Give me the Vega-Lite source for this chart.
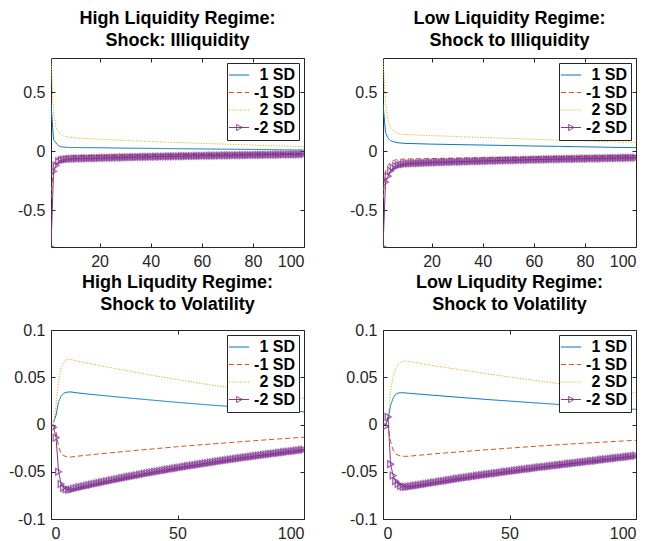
{
  "$schema": "https://vega.github.io/schema/vega-lite/v6.json",
  "autosize": {"type": "pad"},
  "padding": {"left": 8, "top": 9, "right": 5, "bottom": 5},
  "background": "white",
  "config": {
    "view": {"stroke": null},
    "font": "Liberation Sans",
    "axis": {"grid": false, "domainColor": "#262626", "tickColor": "#262626", "labelColor": "#262626", "labelFont": "Liberation Sans", "labelFontSize": 16, "tickSize": -4, "labelPadding": 10, "domainWidth": 1, "tickWidth": 1, "labelExpr": "'' + datum.value"},
    "title": {"font": "Liberation Sans", "fontSize": 18, "fontWeight": "bold", "color": "black", "lineHeight": 22, "offset": 8, "anchor": "middle"},
    "legend": {"orient": "top-right", "offset": 5, "strokeColor": "#262626", "fillColor": "white", "padding": 4, "labelFont": "Liberation Sans", "labelFontSize": 16, "labelFontWeight": "bold", "labelColor": "black", "symbolSize": 180, "symbolStrokeWidth": 1, "rowPadding": 1.5, "labelOffset": 9, "labelLimit": 200, "symbolType": "stroke", "titlePadding": 0}
  },
  "datasets": {
    "A": [
      {"s":"1 SD","x":1,"y":0.40},{"s":"1 SD","x":2,"y":0.10},{"s":"1 SD","x":3,"y":0.07},{"s":"1 SD","x":4,"y":0.045},{"s":"1 SD","x":5,"y":0.038},{"s":"1 SD","x":6,"y":0.036},{"s":"1 SD","x":7,"y":0.034},{"s":"1 SD","x":8,"y":0.033},{"s":"1 SD","x":10,"y":0.032},{"s":"1 SD","x":15,"y":0.031},{"s":"1 SD","x":20,"y":0.030},{"s":"1 SD","x":30,"y":0.027},{"s":"1 SD","x":40,"y":0.025},{"s":"1 SD","x":50,"y":0.022},{"s":"1 SD","x":60,"y":0.020},{"s":"1 SD","x":70,"y":0.018},{"s":"1 SD","x":80,"y":0.016},{"s":"1 SD","x":90,"y":0.013},{"s":"1 SD","x":100,"y":0.011},
      {"s":"-1 SD","x":1,"y":-0.40},{"s":"-1 SD","x":2,"y":-0.12},{"s":"-1 SD","x":3,"y":-0.07},{"s":"-1 SD","x":4,"y":-0.055},{"s":"-1 SD","x":5,"y":-0.048},{"s":"-1 SD","x":6,"y":-0.044},{"s":"-1 SD","x":8,"y":-0.040},{"s":"-1 SD","x":10,"y":-0.038},{"s":"-1 SD","x":15,"y":-0.036},{"s":"-1 SD","x":20,"y":-0.035},{"s":"-1 SD","x":30,"y":-0.032},{"s":"-1 SD","x":40,"y":-0.030},{"s":"-1 SD","x":50,"y":-0.028},{"s":"-1 SD","x":60,"y":-0.026},{"s":"-1 SD","x":70,"y":-0.024},{"s":"-1 SD","x":80,"y":-0.022},{"s":"-1 SD","x":90,"y":-0.020},{"s":"-1 SD","x":100,"y":-0.018},
      {"s":"2 SD","x":1,"y":0.79},{"s":"2 SD","x":2,"y":0.32},{"s":"2 SD","x":3,"y":0.20},{"s":"2 SD","x":4,"y":0.16},{"s":"2 SD","x":5,"y":0.14},{"s":"2 SD","x":6,"y":0.13},{"s":"2 SD","x":8,"y":0.12},{"s":"2 SD","x":10,"y":0.115},{"s":"2 SD","x":15,"y":0.108},{"s":"2 SD","x":20,"y":0.102},{"s":"2 SD","x":30,"y":0.092},{"s":"2 SD","x":40,"y":0.083},{"s":"2 SD","x":50,"y":0.075},{"s":"2 SD","x":60,"y":0.067},{"s":"2 SD","x":70,"y":0.060},{"s":"2 SD","x":80,"y":0.053},{"s":"2 SD","x":90,"y":0.046},{"s":"2 SD","x":100,"y":0.040},
      {"s":"-2 SD","x":1,"y":-0.81},{"s":"-2 SD","x":2,"y":-0.17},{"s":"-2 SD","x":3,"y":-0.12},{"s":"-2 SD","x":4,"y":-0.085},{"s":"-2 SD","x":5,"y":-0.075},{"s":"-2 SD","x":6,"y":-0.07},{"s":"-2 SD","x":7,"y":-0.067},{"s":"-2 SD","x":8,"y":-0.065},{"s":"-2 SD","x":9,"y":-0.063},{"s":"-2 SD","x":10,"y":-0.062},
      {"s":"-2 SD","x":11,"y":-0.0615},{"s":"-2 SD","x":12,"y":-0.0609},{"s":"-2 SD","x":13,"y":-0.0604},{"s":"-2 SD","x":14,"y":-0.0598},{"s":"-2 SD","x":15,"y":-0.0593},{"s":"-2 SD","x":16,"y":-0.0587},{"s":"-2 SD","x":17,"y":-0.0582},{"s":"-2 SD","x":18,"y":-0.0576},{"s":"-2 SD","x":19,"y":-0.0571},{"s":"-2 SD","x":20,"y":-0.0565},
      {"s":"-2 SD","x":21,"y":-0.056},{"s":"-2 SD","x":22,"y":-0.0554},{"s":"-2 SD","x":23,"y":-0.0549},{"s":"-2 SD","x":24,"y":-0.0543},{"s":"-2 SD","x":25,"y":-0.0538},{"s":"-2 SD","x":26,"y":-0.0532},{"s":"-2 SD","x":27,"y":-0.0527},{"s":"-2 SD","x":28,"y":-0.0521},{"s":"-2 SD","x":29,"y":-0.0516},{"s":"-2 SD","x":30,"y":-0.051},
      {"s":"-2 SD","x":31,"y":-0.0505},{"s":"-2 SD","x":32,"y":-0.05},{"s":"-2 SD","x":33,"y":-0.0495},{"s":"-2 SD","x":34,"y":-0.049},{"s":"-2 SD","x":35,"y":-0.0485},{"s":"-2 SD","x":36,"y":-0.048},{"s":"-2 SD","x":37,"y":-0.0475},{"s":"-2 SD","x":38,"y":-0.047},{"s":"-2 SD","x":39,"y":-0.0465},{"s":"-2 SD","x":40,"y":-0.046},
      {"s":"-2 SD","x":41,"y":-0.0456},{"s":"-2 SD","x":42,"y":-0.0452},{"s":"-2 SD","x":43,"y":-0.0448},{"s":"-2 SD","x":44,"y":-0.0444},{"s":"-2 SD","x":45,"y":-0.044},{"s":"-2 SD","x":46,"y":-0.0436},{"s":"-2 SD","x":47,"y":-0.0432},{"s":"-2 SD","x":48,"y":-0.0428},{"s":"-2 SD","x":49,"y":-0.0424},{"s":"-2 SD","x":50,"y":-0.042},
      {"s":"-2 SD","x":51,"y":-0.0416},{"s":"-2 SD","x":52,"y":-0.0412},{"s":"-2 SD","x":53,"y":-0.0408},{"s":"-2 SD","x":54,"y":-0.0404},{"s":"-2 SD","x":55,"y":-0.04},{"s":"-2 SD","x":56,"y":-0.0396},{"s":"-2 SD","x":57,"y":-0.0392},{"s":"-2 SD","x":58,"y":-0.0388},{"s":"-2 SD","x":59,"y":-0.0384},{"s":"-2 SD","x":60,"y":-0.038},
      {"s":"-2 SD","x":61,"y":-0.0377},{"s":"-2 SD","x":62,"y":-0.0373},{"s":"-2 SD","x":63,"y":-0.037},{"s":"-2 SD","x":64,"y":-0.0366},{"s":"-2 SD","x":65,"y":-0.0363},{"s":"-2 SD","x":66,"y":-0.0359},{"s":"-2 SD","x":67,"y":-0.0356},{"s":"-2 SD","x":68,"y":-0.0352},{"s":"-2 SD","x":69,"y":-0.0349},{"s":"-2 SD","x":70,"y":-0.0345},
      {"s":"-2 SD","x":71,"y":-0.0342},{"s":"-2 SD","x":72,"y":-0.0338},{"s":"-2 SD","x":73,"y":-0.0335},{"s":"-2 SD","x":74,"y":-0.0331},{"s":"-2 SD","x":75,"y":-0.0328},{"s":"-2 SD","x":76,"y":-0.0324},{"s":"-2 SD","x":77,"y":-0.0321},{"s":"-2 SD","x":78,"y":-0.0317},{"s":"-2 SD","x":79,"y":-0.0314},{"s":"-2 SD","x":80,"y":-0.031},
      {"s":"-2 SD","x":81,"y":-0.0307},{"s":"-2 SD","x":82,"y":-0.0304},{"s":"-2 SD","x":83,"y":-0.0301},{"s":"-2 SD","x":84,"y":-0.0298},{"s":"-2 SD","x":85,"y":-0.0295},{"s":"-2 SD","x":86,"y":-0.0292},{"s":"-2 SD","x":87,"y":-0.0289},{"s":"-2 SD","x":88,"y":-0.0286},{"s":"-2 SD","x":89,"y":-0.0283},{"s":"-2 SD","x":90,"y":-0.028},
      {"s":"-2 SD","x":91,"y":-0.0277},{"s":"-2 SD","x":92,"y":-0.0274},{"s":"-2 SD","x":93,"y":-0.0271},{"s":"-2 SD","x":94,"y":-0.0268},{"s":"-2 SD","x":95,"y":-0.0265},{"s":"-2 SD","x":96,"y":-0.0262},{"s":"-2 SD","x":97,"y":-0.0259},{"s":"-2 SD","x":98,"y":-0.0256},{"s":"-2 SD","x":99,"y":-0.0253},{"s":"-2 SD","x":100,"y":-0.025}
    ],
    "B": [
      {"s":"1 SD","x":1,"y":0.40},{"s":"1 SD","x":2,"y":0.16},{"s":"1 SD","x":3,"y":0.11},{"s":"1 SD","x":4,"y":0.09},{"s":"1 SD","x":5,"y":0.082},{"s":"1 SD","x":6,"y":0.076},{"s":"1 SD","x":7,"y":0.072},{"s":"1 SD","x":8,"y":0.07},{"s":"1 SD","x":10,"y":0.067},{"s":"1 SD","x":15,"y":0.064},{"s":"1 SD","x":20,"y":0.061},{"s":"1 SD","x":30,"y":0.057},{"s":"1 SD","x":40,"y":0.053},{"s":"1 SD","x":50,"y":0.049},{"s":"1 SD","x":60,"y":0.045},{"s":"1 SD","x":70,"y":0.042},{"s":"1 SD","x":80,"y":0.038},{"s":"1 SD","x":90,"y":0.034},{"s":"1 SD","x":100,"y":0.031},
      {"s":"-1 SD","x":1,"y":-0.40},{"s":"-1 SD","x":2,"y":-0.17},{"s":"-1 SD","x":3,"y":-0.12},{"s":"-1 SD","x":4,"y":-0.09},{"s":"-1 SD","x":5,"y":-0.078},{"s":"-1 SD","x":6,"y":-0.072},{"s":"-1 SD","x":8,"y":-0.067},{"s":"-1 SD","x":10,"y":-0.065},{"s":"-1 SD","x":15,"y":-0.063},{"s":"-1 SD","x":20,"y":-0.061},{"s":"-1 SD","x":30,"y":-0.058},{"s":"-1 SD","x":40,"y":-0.055},{"s":"-1 SD","x":50,"y":-0.052},{"s":"-1 SD","x":60,"y":-0.049},{"s":"-1 SD","x":70,"y":-0.046},{"s":"-1 SD","x":80,"y":-0.043},{"s":"-1 SD","x":90,"y":-0.039},{"s":"-1 SD","x":100,"y":-0.035},
      {"s":"2 SD","x":1,"y":0.79},{"s":"2 SD","x":2,"y":0.40},{"s":"2 SD","x":3,"y":0.26},{"s":"2 SD","x":4,"y":0.20},{"s":"2 SD","x":5,"y":0.175},{"s":"2 SD","x":6,"y":0.16},{"s":"2 SD","x":7,"y":0.152},{"s":"2 SD","x":8,"y":0.147},{"s":"2 SD","x":10,"y":0.142},{"s":"2 SD","x":15,"y":0.137},{"s":"2 SD","x":20,"y":0.133},{"s":"2 SD","x":30,"y":0.125},{"s":"2 SD","x":40,"y":0.117},{"s":"2 SD","x":50,"y":0.11},{"s":"2 SD","x":60,"y":0.102},{"s":"2 SD","x":70,"y":0.095},{"s":"2 SD","x":80,"y":0.088},{"s":"2 SD","x":90,"y":0.081},{"s":"2 SD","x":100,"y":0.075},
      {"s":"-2 SD","x":1,"y":-0.81},{"s":"-2 SD","x":2,"y":-0.26},{"s":"-2 SD","x":3,"y":-0.21},{"s":"-2 SD","x":4,"y":-0.165},{"s":"-2 SD","x":5,"y":-0.14},{"s":"-2 SD","x":6,"y":-0.125},{"s":"-2 SD","x":7,"y":-0.117},{"s":"-2 SD","x":8,"y":-0.112},{"s":"-2 SD","x":9,"y":-0.108},{"s":"-2 SD","x":10,"y":-0.104},
      {"s":"-2 SD","x":11,"y":-0.1031},{"s":"-2 SD","x":12,"y":-0.1022},{"s":"-2 SD","x":13,"y":-0.1013},{"s":"-2 SD","x":14,"y":-0.1004},{"s":"-2 SD","x":15,"y":-0.0995},{"s":"-2 SD","x":16,"y":-0.0986},{"s":"-2 SD","x":17,"y":-0.0977},{"s":"-2 SD","x":18,"y":-0.0968},{"s":"-2 SD","x":19,"y":-0.0959},{"s":"-2 SD","x":20,"y":-0.095},
      {"s":"-2 SD","x":21,"y":-0.0943},{"s":"-2 SD","x":22,"y":-0.0936},{"s":"-2 SD","x":23,"y":-0.0929},{"s":"-2 SD","x":24,"y":-0.0922},{"s":"-2 SD","x":25,"y":-0.0915},{"s":"-2 SD","x":26,"y":-0.0908},{"s":"-2 SD","x":27,"y":-0.0901},{"s":"-2 SD","x":28,"y":-0.0894},{"s":"-2 SD","x":29,"y":-0.0887},{"s":"-2 SD","x":30,"y":-0.088},
      {"s":"-2 SD","x":31,"y":-0.0874},{"s":"-2 SD","x":32,"y":-0.0868},{"s":"-2 SD","x":33,"y":-0.0862},{"s":"-2 SD","x":34,"y":-0.0856},{"s":"-2 SD","x":35,"y":-0.085},{"s":"-2 SD","x":36,"y":-0.0844},{"s":"-2 SD","x":37,"y":-0.0838},{"s":"-2 SD","x":38,"y":-0.0832},{"s":"-2 SD","x":39,"y":-0.0826},{"s":"-2 SD","x":40,"y":-0.082},
      {"s":"-2 SD","x":41,"y":-0.0814},{"s":"-2 SD","x":42,"y":-0.0808},{"s":"-2 SD","x":43,"y":-0.0802},{"s":"-2 SD","x":44,"y":-0.0796},{"s":"-2 SD","x":45,"y":-0.079},{"s":"-2 SD","x":46,"y":-0.0784},{"s":"-2 SD","x":47,"y":-0.0778},{"s":"-2 SD","x":48,"y":-0.0772},{"s":"-2 SD","x":49,"y":-0.0766},{"s":"-2 SD","x":50,"y":-0.076},
      {"s":"-2 SD","x":51,"y":-0.0755},{"s":"-2 SD","x":52,"y":-0.075},{"s":"-2 SD","x":53,"y":-0.0745},{"s":"-2 SD","x":54,"y":-0.074},{"s":"-2 SD","x":55,"y":-0.0735},{"s":"-2 SD","x":56,"y":-0.073},{"s":"-2 SD","x":57,"y":-0.0725},{"s":"-2 SD","x":58,"y":-0.072},{"s":"-2 SD","x":59,"y":-0.0715},{"s":"-2 SD","x":60,"y":-0.071},
      {"s":"-2 SD","x":61,"y":-0.0705},{"s":"-2 SD","x":62,"y":-0.07},{"s":"-2 SD","x":63,"y":-0.0695},{"s":"-2 SD","x":64,"y":-0.069},{"s":"-2 SD","x":65,"y":-0.0685},{"s":"-2 SD","x":66,"y":-0.068},{"s":"-2 SD","x":67,"y":-0.0675},{"s":"-2 SD","x":68,"y":-0.067},{"s":"-2 SD","x":69,"y":-0.0665},{"s":"-2 SD","x":70,"y":-0.066},
      {"s":"-2 SD","x":71,"y":-0.0656},{"s":"-2 SD","x":72,"y":-0.0652},{"s":"-2 SD","x":73,"y":-0.0648},{"s":"-2 SD","x":74,"y":-0.0644},{"s":"-2 SD","x":75,"y":-0.064},{"s":"-2 SD","x":76,"y":-0.0636},{"s":"-2 SD","x":77,"y":-0.0632},{"s":"-2 SD","x":78,"y":-0.0628},{"s":"-2 SD","x":79,"y":-0.0624},{"s":"-2 SD","x":80,"y":-0.062},
      {"s":"-2 SD","x":81,"y":-0.0616},{"s":"-2 SD","x":82,"y":-0.0612},{"s":"-2 SD","x":83,"y":-0.0608},{"s":"-2 SD","x":84,"y":-0.0604},{"s":"-2 SD","x":85,"y":-0.06},{"s":"-2 SD","x":86,"y":-0.0596},{"s":"-2 SD","x":87,"y":-0.0592},{"s":"-2 SD","x":88,"y":-0.0588},{"s":"-2 SD","x":89,"y":-0.0584},{"s":"-2 SD","x":90,"y":-0.058},
      {"s":"-2 SD","x":91,"y":-0.0576},{"s":"-2 SD","x":92,"y":-0.0572},{"s":"-2 SD","x":93,"y":-0.0568},{"s":"-2 SD","x":94,"y":-0.0564},{"s":"-2 SD","x":95,"y":-0.056},{"s":"-2 SD","x":96,"y":-0.0556},{"s":"-2 SD","x":97,"y":-0.0552},{"s":"-2 SD","x":98,"y":-0.0548},{"s":"-2 SD","x":99,"y":-0.0544},{"s":"-2 SD","x":100,"y":-0.054}
    ],
    "C": [
      {"s":"1 SD","x":1,"y":0.002},{"s":"1 SD","x":2,"y":0.010},{"s":"1 SD","x":3,"y":0.024},{"s":"1 SD","x":4,"y":0.030},{"s":"1 SD","x":5,"y":0.033},{"s":"1 SD","x":6,"y":0.034},{"s":"1 SD","x":7,"y":0.0344},{"s":"1 SD","x":8,"y":0.0344},{"s":"1 SD","x":10,"y":0.0336},{"s":"1 SD","x":15,"y":0.0321},{"s":"1 SD","x":20,"y":0.0308},{"s":"1 SD","x":30,"y":0.0282},{"s":"1 SD","x":40,"y":0.0258},{"s":"1 SD","x":50,"y":0.0234},{"s":"1 SD","x":60,"y":0.0212},{"s":"1 SD","x":70,"y":0.0192},{"s":"1 SD","x":80,"y":0.0171},{"s":"1 SD","x":90,"y":0.0152},{"s":"1 SD","x":100,"y":0.0134},
      {"s":"-1 SD","x":1,"y":0},{"s":"-1 SD","x":2,"y":-0.008},{"s":"-1 SD","x":3,"y":-0.023},{"s":"-1 SD","x":4,"y":-0.031},{"s":"-1 SD","x":5,"y":-0.033},{"s":"-1 SD","x":6,"y":-0.034},{"s":"-1 SD","x":7,"y":-0.0345},{"s":"-1 SD","x":8,"y":-0.0344},{"s":"-1 SD","x":10,"y":-0.0337},{"s":"-1 SD","x":15,"y":-0.0322},{"s":"-1 SD","x":20,"y":-0.0309},{"s":"-1 SD","x":30,"y":-0.0283},{"s":"-1 SD","x":40,"y":-0.0259},{"s":"-1 SD","x":50,"y":-0.0235},{"s":"-1 SD","x":60,"y":-0.0213},{"s":"-1 SD","x":70,"y":-0.0193},{"s":"-1 SD","x":80,"y":-0.0172},{"s":"-1 SD","x":90,"y":-0.0153},{"s":"-1 SD","x":100,"y":-0.0135},
      {"s":"2 SD","x":1,"y":0.002},{"s":"2 SD","x":2,"y":0.02},{"s":"2 SD","x":3,"y":0.047},{"s":"2 SD","x":4,"y":0.06},{"s":"2 SD","x":5,"y":0.066},{"s":"2 SD","x":6,"y":0.0685},{"s":"2 SD","x":7,"y":0.069},{"s":"2 SD","x":8,"y":0.0689},{"s":"2 SD","x":10,"y":0.0673},{"s":"2 SD","x":15,"y":0.0646},{"s":"2 SD","x":20,"y":0.062},{"s":"2 SD","x":30,"y":0.057},{"s":"2 SD","x":40,"y":0.052},{"s":"2 SD","x":50,"y":0.0476},{"s":"2 SD","x":60,"y":0.0432},{"s":"2 SD","x":70,"y":0.0391},{"s":"2 SD","x":80,"y":0.0351},{"s":"2 SD","x":90,"y":0.0314},{"s":"2 SD","x":100,"y":0.0277},
      {"s":"-2 SD","x":1,"y":-0.003},{"s":"-2 SD","x":2,"y":-0.014},{"s":"-2 SD","x":3,"y":-0.05},{"s":"-2 SD","x":4,"y":-0.063},{"s":"-2 SD","x":5,"y":-0.067},{"s":"-2 SD","x":6,"y":-0.0685},{"s":"-2 SD","x":7,"y":-0.069},{"s":"-2 SD","x":8,"y":-0.0688},{"s":"-2 SD","x":9,"y":-0.068},{"s":"-2 SD","x":10,"y":-0.0672},
      {"s":"-2 SD","x":11,"y":-0.0666},{"s":"-2 SD","x":12,"y":-0.066},{"s":"-2 SD","x":13,"y":-0.0654},{"s":"-2 SD","x":14,"y":-0.0648},{"s":"-2 SD","x":15,"y":-0.0642},{"s":"-2 SD","x":16,"y":-0.0636},{"s":"-2 SD","x":17,"y":-0.063},{"s":"-2 SD","x":18,"y":-0.0624},{"s":"-2 SD","x":19,"y":-0.0618},{"s":"-2 SD","x":20,"y":-0.0612},
      {"s":"-2 SD","x":21,"y":-0.0607},{"s":"-2 SD","x":22,"y":-0.0601},{"s":"-2 SD","x":23,"y":-0.0596},{"s":"-2 SD","x":24,"y":-0.059},{"s":"-2 SD","x":25,"y":-0.0585},{"s":"-2 SD","x":26,"y":-0.0579},{"s":"-2 SD","x":27,"y":-0.0574},{"s":"-2 SD","x":28,"y":-0.0568},{"s":"-2 SD","x":29,"y":-0.0563},{"s":"-2 SD","x":30,"y":-0.0557},
      {"s":"-2 SD","x":31,"y":-0.0552},{"s":"-2 SD","x":32,"y":-0.0547},{"s":"-2 SD","x":33,"y":-0.0542},{"s":"-2 SD","x":34,"y":-0.0537},{"s":"-2 SD","x":35,"y":-0.0532},{"s":"-2 SD","x":36,"y":-0.0526},{"s":"-2 SD","x":37,"y":-0.0521},{"s":"-2 SD","x":38,"y":-0.0516},{"s":"-2 SD","x":39,"y":-0.0511},{"s":"-2 SD","x":40,"y":-0.0506},
      {"s":"-2 SD","x":41,"y":-0.0501},{"s":"-2 SD","x":42,"y":-0.0497},{"s":"-2 SD","x":43,"y":-0.0492},{"s":"-2 SD","x":44,"y":-0.0487},{"s":"-2 SD","x":45,"y":-0.0483},{"s":"-2 SD","x":46,"y":-0.0478},{"s":"-2 SD","x":47,"y":-0.0473},{"s":"-2 SD","x":48,"y":-0.0468},{"s":"-2 SD","x":49,"y":-0.0464},{"s":"-2 SD","x":50,"y":-0.0459},
      {"s":"-2 SD","x":51,"y":-0.0455},{"s":"-2 SD","x":52,"y":-0.045},{"s":"-2 SD","x":53,"y":-0.0446},{"s":"-2 SD","x":54,"y":-0.0441},{"s":"-2 SD","x":55,"y":-0.0437},{"s":"-2 SD","x":56,"y":-0.0433},{"s":"-2 SD","x":57,"y":-0.0428},{"s":"-2 SD","x":58,"y":-0.0424},{"s":"-2 SD","x":59,"y":-0.0419},{"s":"-2 SD","x":60,"y":-0.0415},
      {"s":"-2 SD","x":61,"y":-0.0411},{"s":"-2 SD","x":62,"y":-0.0407},{"s":"-2 SD","x":63,"y":-0.0403},{"s":"-2 SD","x":64,"y":-0.0399},{"s":"-2 SD","x":65,"y":-0.0395},{"s":"-2 SD","x":66,"y":-0.039},{"s":"-2 SD","x":67,"y":-0.0386},{"s":"-2 SD","x":68,"y":-0.0382},{"s":"-2 SD","x":69,"y":-0.0378},{"s":"-2 SD","x":70,"y":-0.0374},
      {"s":"-2 SD","x":71,"y":-0.037},{"s":"-2 SD","x":72,"y":-0.0366},{"s":"-2 SD","x":73,"y":-0.0363},{"s":"-2 SD","x":74,"y":-0.0359},{"s":"-2 SD","x":75,"y":-0.0355},{"s":"-2 SD","x":76,"y":-0.0351},{"s":"-2 SD","x":77,"y":-0.0347},{"s":"-2 SD","x":78,"y":-0.0344},{"s":"-2 SD","x":79,"y":-0.034},{"s":"-2 SD","x":80,"y":-0.0336},
      {"s":"-2 SD","x":81,"y":-0.0332},{"s":"-2 SD","x":82,"y":-0.0329},{"s":"-2 SD","x":83,"y":-0.0325},{"s":"-2 SD","x":84,"y":-0.0322},{"s":"-2 SD","x":85,"y":-0.0318},{"s":"-2 SD","x":86,"y":-0.0314},{"s":"-2 SD","x":87,"y":-0.0311},{"s":"-2 SD","x":88,"y":-0.0307},{"s":"-2 SD","x":89,"y":-0.0304},{"s":"-2 SD","x":90,"y":-0.03},
      {"s":"-2 SD","x":91,"y":-0.0297},{"s":"-2 SD","x":92,"y":-0.0293},{"s":"-2 SD","x":93,"y":-0.029},{"s":"-2 SD","x":94,"y":-0.0286},{"s":"-2 SD","x":95,"y":-0.0283},{"s":"-2 SD","x":96,"y":-0.028},{"s":"-2 SD","x":97,"y":-0.0276},{"s":"-2 SD","x":98,"y":-0.0273},{"s":"-2 SD","x":99,"y":-0.0269},{"s":"-2 SD","x":100,"y":-0.0266}
    ],
    "D": [
      {"s":"1 SD","x":1,"y":0.0},{"s":"1 SD","x":2,"y":0.006},{"s":"1 SD","x":3,"y":0.02},{"s":"1 SD","x":4,"y":0.028},{"s":"1 SD","x":5,"y":0.032},{"s":"1 SD","x":6,"y":0.0333},{"s":"1 SD","x":7,"y":0.0336},{"s":"1 SD","x":8,"y":0.0336},{"s":"1 SD","x":10,"y":0.0331},{"s":"1 SD","x":20,"y":0.0309},{"s":"1 SD","x":30,"y":0.0288},{"s":"1 SD","x":40,"y":0.0267},{"s":"1 SD","x":50,"y":0.0248},{"s":"1 SD","x":60,"y":0.0229},{"s":"1 SD","x":70,"y":0.0211},{"s":"1 SD","x":80,"y":0.0194},{"s":"1 SD","x":90,"y":0.0177},{"s":"1 SD","x":100,"y":0.016},
      {"s":"-1 SD","x":1,"y":0},{"s":"-1 SD","x":2,"y":-0.002},{"s":"-1 SD","x":3,"y":-0.018},{"s":"-1 SD","x":4,"y":-0.027},{"s":"-1 SD","x":5,"y":-0.031},{"s":"-1 SD","x":6,"y":-0.0325},{"s":"-1 SD","x":7,"y":-0.0333},{"s":"-1 SD","x":8,"y":-0.0336},{"s":"-1 SD","x":9,"y":-0.0337},{"s":"-1 SD","x":10,"y":-0.0336},{"s":"-1 SD","x":20,"y":-0.0311},{"s":"-1 SD","x":30,"y":-0.029},{"s":"-1 SD","x":40,"y":-0.0269},{"s":"-1 SD","x":50,"y":-0.025},{"s":"-1 SD","x":60,"y":-0.0231},{"s":"-1 SD","x":70,"y":-0.0213},{"s":"-1 SD","x":80,"y":-0.0197},{"s":"-1 SD","x":90,"y":-0.0182},{"s":"-1 SD","x":100,"y":-0.0167},
      {"s":"2 SD","x":1,"y":0},{"s":"2 SD","x":2,"y":0.008},{"s":"2 SD","x":3,"y":0.035},{"s":"2 SD","x":4,"y":0.051},{"s":"2 SD","x":5,"y":0.059},{"s":"2 SD","x":6,"y":0.064},{"s":"2 SD","x":7,"y":0.066},{"s":"2 SD","x":8,"y":0.067},{"s":"2 SD","x":9,"y":0.067},{"s":"2 SD","x":10,"y":0.0668},{"s":"2 SD","x":20,"y":0.0622},{"s":"2 SD","x":30,"y":0.0581},{"s":"2 SD","x":40,"y":0.0541},{"s":"2 SD","x":50,"y":0.0503},{"s":"2 SD","x":60,"y":0.0466},{"s":"2 SD","x":70,"y":0.0431},{"s":"2 SD","x":80,"y":0.0397},{"s":"2 SD","x":90,"y":0.0364},{"s":"2 SD","x":100,"y":0.0333},
      {"s":"-2 SD","x":1,"y":-0.002},{"s":"-2 SD","x":2,"y":0.008},{"s":"-2 SD","x":3,"y":-0.042},{"s":"-2 SD","x":4,"y":-0.054},{"s":"-2 SD","x":5,"y":-0.06},{"s":"-2 SD","x":6,"y":-0.063},{"s":"-2 SD","x":7,"y":-0.065},{"s":"-2 SD","x":8,"y":-0.066},{"s":"-2 SD","x":9,"y":-0.066},{"s":"-2 SD","x":10,"y":-0.0658},
      {"s":"-2 SD","x":11,"y":-0.0654},{"s":"-2 SD","x":12,"y":-0.0649},{"s":"-2 SD","x":13,"y":-0.0645},{"s":"-2 SD","x":14,"y":-0.0641},{"s":"-2 SD","x":15,"y":-0.0637},{"s":"-2 SD","x":16,"y":-0.0632},{"s":"-2 SD","x":17,"y":-0.0628},{"s":"-2 SD","x":18,"y":-0.0624},{"s":"-2 SD","x":19,"y":-0.0619},{"s":"-2 SD","x":20,"y":-0.0615},
      {"s":"-2 SD","x":21,"y":-0.0611},{"s":"-2 SD","x":22,"y":-0.0606},{"s":"-2 SD","x":23,"y":-0.0602},{"s":"-2 SD","x":24,"y":-0.0598},{"s":"-2 SD","x":25,"y":-0.0594},{"s":"-2 SD","x":26,"y":-0.0589},{"s":"-2 SD","x":27,"y":-0.0585},{"s":"-2 SD","x":28,"y":-0.0581},{"s":"-2 SD","x":29,"y":-0.0576},{"s":"-2 SD","x":30,"y":-0.0572},
      {"s":"-2 SD","x":31,"y":-0.0568},{"s":"-2 SD","x":32,"y":-0.0564},{"s":"-2 SD","x":33,"y":-0.056},{"s":"-2 SD","x":34,"y":-0.0556},{"s":"-2 SD","x":35,"y":-0.0552},{"s":"-2 SD","x":36,"y":-0.0548},{"s":"-2 SD","x":37,"y":-0.0544},{"s":"-2 SD","x":38,"y":-0.054},{"s":"-2 SD","x":39,"y":-0.0536},{"s":"-2 SD","x":40,"y":-0.0532},
      {"s":"-2 SD","x":41,"y":-0.0528},{"s":"-2 SD","x":42,"y":-0.0525},{"s":"-2 SD","x":43,"y":-0.0521},{"s":"-2 SD","x":44,"y":-0.0517},{"s":"-2 SD","x":45,"y":-0.0514},{"s":"-2 SD","x":46,"y":-0.051},{"s":"-2 SD","x":47,"y":-0.0506},{"s":"-2 SD","x":48,"y":-0.0502},{"s":"-2 SD","x":49,"y":-0.0499},{"s":"-2 SD","x":50,"y":-0.0495},
      {"s":"-2 SD","x":51,"y":-0.0492},{"s":"-2 SD","x":52,"y":-0.0488},{"s":"-2 SD","x":53,"y":-0.0485},{"s":"-2 SD","x":54,"y":-0.0481},{"s":"-2 SD","x":55,"y":-0.0478},{"s":"-2 SD","x":56,"y":-0.0474},{"s":"-2 SD","x":57,"y":-0.0471},{"s":"-2 SD","x":58,"y":-0.0467},{"s":"-2 SD","x":59,"y":-0.0464},{"s":"-2 SD","x":60,"y":-0.046},
      {"s":"-2 SD","x":61,"y":-0.0457},{"s":"-2 SD","x":62,"y":-0.0453},{"s":"-2 SD","x":63,"y":-0.045},{"s":"-2 SD","x":64,"y":-0.0447},{"s":"-2 SD","x":65,"y":-0.0444},{"s":"-2 SD","x":66,"y":-0.044},{"s":"-2 SD","x":67,"y":-0.0437},{"s":"-2 SD","x":68,"y":-0.0434},{"s":"-2 SD","x":69,"y":-0.043},{"s":"-2 SD","x":70,"y":-0.0427},
      {"s":"-2 SD","x":71,"y":-0.0424},{"s":"-2 SD","x":72,"y":-0.0421},{"s":"-2 SD","x":73,"y":-0.0417},{"s":"-2 SD","x":74,"y":-0.0414},{"s":"-2 SD","x":75,"y":-0.0411},{"s":"-2 SD","x":76,"y":-0.0408},{"s":"-2 SD","x":77,"y":-0.0405},{"s":"-2 SD","x":78,"y":-0.0401},{"s":"-2 SD","x":79,"y":-0.0398},{"s":"-2 SD","x":80,"y":-0.0395},
      {"s":"-2 SD","x":81,"y":-0.0392},{"s":"-2 SD","x":82,"y":-0.0388},{"s":"-2 SD","x":83,"y":-0.0385},{"s":"-2 SD","x":84,"y":-0.0382},{"s":"-2 SD","x":85,"y":-0.0379},{"s":"-2 SD","x":86,"y":-0.0375},{"s":"-2 SD","x":87,"y":-0.0372},{"s":"-2 SD","x":88,"y":-0.0369},{"s":"-2 SD","x":89,"y":-0.0365},{"s":"-2 SD","x":90,"y":-0.0362},
      {"s":"-2 SD","x":91,"y":-0.0359},{"s":"-2 SD","x":92,"y":-0.0356},{"s":"-2 SD","x":93,"y":-0.0352},{"s":"-2 SD","x":94,"y":-0.0349},{"s":"-2 SD","x":95,"y":-0.0346},{"s":"-2 SD","x":96,"y":-0.0343},{"s":"-2 SD","x":97,"y":-0.034},{"s":"-2 SD","x":98,"y":-0.0336},{"s":"-2 SD","x":99,"y":-0.0333},{"s":"-2 SD","x":100,"y":-0.033}
    ]
  },
  "columns": 2,
  "spacing": {"row": 83, "column": 79},
  "bounds": "flush",
  "align": "all",
  "resolve": {
    "scale": {"color": "independent", "strokeDash": "independent", "x": "independent", "y": "independent"},
    "legend": {"color": "independent", "strokeDash": "independent"}
  },
  "concat": [
    {
      "width": 253, "height": 189,
      "title": {"text": ["High Liquidity Regime:", "Shock: Illiquidity"]},
      "data": {"name": "A"},
      "layer": [
        {"mark": {"type": "line", "strokeWidth": 1, "clip": true},
         "encoding": {
           "x": {"field": "x", "type": "quantitative", "scale": {"domain": [1, 100], "nice": false, "zero": false}, "axis": {"orient": "bottom", "values": [20, 40, 60, 80, 100], "title": null}},
           "y": {"field": "y", "type": "quantitative", "scale": {"domain": [-0.81, 0.79], "nice": false, "zero": false}, "axis": {"orient": "left", "values": [-0.5, 0, 0.5], "title": null}},
           "color": {"field": "s", "type": "nominal", "scale": {"domain": ["1 SD", "-1 SD", "2 SD", "-2 SD"], "range": ["#0072BD", "#D95319", "#EDB120", "#7E2F8E"]}, "legend": {"title": null, "encode": {"symbols": {"update": {"shape": {"signal": "datum.value === '-2 SD' ? 'M-1.5,0H1.5M-0.35,-0.45L0.45,0L-0.35,0.45Z' : 'M-1.5,0H1.5'"}}}, "labels": {"update": {"align": {"value": "right"}, "x": {"value": 64}}}}}},
           "strokeDash": {"field": "s", "type": "nominal", "scale": {"domain": ["1 SD", "-1 SD", "2 SD", "-2 SD"], "range": [[1, 0], [5, 3], [1.2, 1.5], [1, 0]]}, "legend": {"title": null}}
         }},
        {"transform": [{"filter": "datum.s === '-2 SD'"}],
         "mark": {"type": "point", "shape": "triangle-right", "filled": false, "size": 45, "strokeWidth": 1.4, "clip": true},
         "encoding": {
           "x": {"field": "x", "type": "quantitative", "scale": {"domain": [1, 100], "nice": false, "zero": false}, "axis": {"orient": "top", "values": [20, 40, 60, 80, 100], "labels": false, "title": null}},
           "y": {"field": "y", "type": "quantitative", "scale": {"domain": [-0.81, 0.79], "nice": false, "zero": false}, "axis": {"orient": "right", "values": [-0.5, 0, 0.5], "labels": false, "title": null}},
           "color": {"field": "s", "type": "nominal", "scale": {"domain": ["1 SD", "-1 SD", "2 SD", "-2 SD"], "range": ["#0072BD", "#D95319", "#EDB120", "#7E2F8E"]}, "legend": {"title": null, "encode": {"symbols": {"update": {"shape": {"signal": "datum.value === '-2 SD' ? 'M-1.5,0H1.5M-0.35,-0.45L0.45,0L-0.35,0.45Z' : 'M-1.5,0H1.5'"}}}, "labels": {"update": {"align": {"value": "right"}, "x": {"value": 64}}}}}}
         }}
      ],
      "resolve": {"axis": {"x": "independent", "y": "independent"}}
    },
    {
      "width": 253, "height": 189,
      "title": {"text": ["Low Liquidity Regime:", "Shock to Illiquidity"]},
      "data": {"name": "B"},
      "layer": [
        {"mark": {"type": "line", "strokeWidth": 1, "clip": true},
         "encoding": {
           "x": {"field": "x", "type": "quantitative", "scale": {"domain": [1, 100], "nice": false, "zero": false}, "axis": {"orient": "bottom", "values": [20, 40, 60, 80, 100], "title": null}},
           "y": {"field": "y", "type": "quantitative", "scale": {"domain": [-0.81, 0.79], "nice": false, "zero": false}, "axis": {"orient": "left", "values": [-0.5, 0, 0.5], "title": null}},
           "color": {"field": "s", "type": "nominal", "scale": {"domain": ["1 SD", "-1 SD", "2 SD", "-2 SD"], "range": ["#0072BD", "#D95319", "#EDB120", "#7E2F8E"]}, "legend": {"title": null, "encode": {"symbols": {"update": {"shape": {"signal": "datum.value === '-2 SD' ? 'M-1.5,0H1.5M-0.35,-0.45L0.45,0L-0.35,0.45Z' : 'M-1.5,0H1.5'"}}}, "labels": {"update": {"align": {"value": "right"}, "x": {"value": 64}}}}}},
           "strokeDash": {"field": "s", "type": "nominal", "scale": {"domain": ["1 SD", "-1 SD", "2 SD", "-2 SD"], "range": [[1, 0], [5, 3], [1.2, 1.5], [1, 0]]}, "legend": {"title": null}}
         }},
        {"transform": [{"filter": "datum.s === '-2 SD'"}],
         "mark": {"type": "point", "shape": "triangle-right", "filled": false, "size": 45, "strokeWidth": 1.4, "clip": true},
         "encoding": {
           "x": {"field": "x", "type": "quantitative", "scale": {"domain": [1, 100], "nice": false, "zero": false}, "axis": {"orient": "top", "values": [20, 40, 60, 80, 100], "labels": false, "title": null}},
           "y": {"field": "y", "type": "quantitative", "scale": {"domain": [-0.81, 0.79], "nice": false, "zero": false}, "axis": {"orient": "right", "values": [-0.5, 0, 0.5], "labels": false, "title": null}},
           "color": {"field": "s", "type": "nominal", "scale": {"domain": ["1 SD", "-1 SD", "2 SD", "-2 SD"], "range": ["#0072BD", "#D95319", "#EDB120", "#7E2F8E"]}, "legend": {"title": null, "encode": {"symbols": {"update": {"shape": {"signal": "datum.value === '-2 SD' ? 'M-1.5,0H1.5M-0.35,-0.45L0.45,0L-0.35,0.45Z' : 'M-1.5,0H1.5'"}}}, "labels": {"update": {"align": {"value": "right"}, "x": {"value": 64}}}}}}
         }}
      ],
      "resolve": {"axis": {"x": "independent", "y": "independent"}}
    },
    {
      "width": 253, "height": 189,
      "title": {"text": ["High Liqudity Regime:", "Shock to Volatility"]},
      "data": {"name": "C"},
      "layer": [
        {"mark": {"type": "line", "strokeWidth": 1, "clip": true},
         "encoding": {
           "x": {"field": "x", "type": "quantitative", "scale": {"domain": [0, 100], "nice": false, "zero": false}, "axis": {"orient": "bottom", "values": [0, 50, 100], "title": null}},
           "y": {"field": "y", "type": "quantitative", "scale": {"domain": [-0.1, 0.1], "nice": false, "zero": false}, "axis": {"orient": "left", "values": [-0.1, -0.05, 0, 0.05, 0.1], "title": null}},
           "color": {"field": "s", "type": "nominal", "scale": {"domain": ["1 SD", "-1 SD", "2 SD", "-2 SD"], "range": ["#0072BD", "#D95319", "#EDB120", "#7E2F8E"]}, "legend": {"title": null, "encode": {"symbols": {"update": {"shape": {"signal": "datum.value === '-2 SD' ? 'M-1.5,0H1.5M-0.35,-0.45L0.45,0L-0.35,0.45Z' : 'M-1.5,0H1.5'"}}}, "labels": {"update": {"align": {"value": "right"}, "x": {"value": 64}}}}}},
           "strokeDash": {"field": "s", "type": "nominal", "scale": {"domain": ["1 SD", "-1 SD", "2 SD", "-2 SD"], "range": [[1, 0], [5, 3], [1.2, 1.5], [1, 0]]}, "legend": {"title": null}}
         }},
        {"transform": [{"filter": "datum.s === '-2 SD'"}],
         "mark": {"type": "point", "shape": "triangle-right", "filled": false, "size": 45, "strokeWidth": 1.4, "clip": true},
         "encoding": {
           "x": {"field": "x", "type": "quantitative", "scale": {"domain": [0, 100], "nice": false, "zero": false}, "axis": {"orient": "top", "values": [0, 50, 100], "labels": false, "title": null}},
           "y": {"field": "y", "type": "quantitative", "scale": {"domain": [-0.1, 0.1], "nice": false, "zero": false}, "axis": {"orient": "right", "values": [-0.1, -0.05, 0, 0.05, 0.1], "labels": false, "title": null}},
           "color": {"field": "s", "type": "nominal", "scale": {"domain": ["1 SD", "-1 SD", "2 SD", "-2 SD"], "range": ["#0072BD", "#D95319", "#EDB120", "#7E2F8E"]}, "legend": {"title": null, "encode": {"symbols": {"update": {"shape": {"signal": "datum.value === '-2 SD' ? 'M-1.5,0H1.5M-0.35,-0.45L0.45,0L-0.35,0.45Z' : 'M-1.5,0H1.5'"}}}, "labels": {"update": {"align": {"value": "right"}, "x": {"value": 64}}}}}}
         }}
      ],
      "resolve": {"axis": {"x": "independent", "y": "independent"}}
    },
    {
      "width": 253, "height": 189,
      "title": {"text": ["Low Liqudity Regime:", "Shock to Volatility"]},
      "data": {"name": "D"},
      "layer": [
        {"mark": {"type": "line", "strokeWidth": 1, "clip": true},
         "encoding": {
           "x": {"field": "x", "type": "quantitative", "scale": {"domain": [0, 100], "nice": false, "zero": false}, "axis": {"orient": "bottom", "values": [0, 50, 100], "title": null}},
           "y": {"field": "y", "type": "quantitative", "scale": {"domain": [-0.1, 0.1], "nice": false, "zero": false}, "axis": {"orient": "left", "values": [-0.1, -0.05, 0, 0.05, 0.1], "title": null}},
           "color": {"field": "s", "type": "nominal", "scale": {"domain": ["1 SD", "-1 SD", "2 SD", "-2 SD"], "range": ["#0072BD", "#D95319", "#EDB120", "#7E2F8E"]}, "legend": {"title": null, "encode": {"symbols": {"update": {"shape": {"signal": "datum.value === '-2 SD' ? 'M-1.5,0H1.5M-0.35,-0.45L0.45,0L-0.35,0.45Z' : 'M-1.5,0H1.5'"}}}, "labels": {"update": {"align": {"value": "right"}, "x": {"value": 64}}}}}},
           "strokeDash": {"field": "s", "type": "nominal", "scale": {"domain": ["1 SD", "-1 SD", "2 SD", "-2 SD"], "range": [[1, 0], [5, 3], [1.2, 1.5], [1, 0]]}, "legend": {"title": null}}
         }},
        {"transform": [{"filter": "datum.s === '-2 SD'"}],
         "mark": {"type": "point", "shape": "triangle-right", "filled": false, "size": 45, "strokeWidth": 1.4, "clip": true},
         "encoding": {
           "x": {"field": "x", "type": "quantitative", "scale": {"domain": [0, 100], "nice": false, "zero": false}, "axis": {"orient": "top", "values": [0, 50, 100], "labels": false, "title": null}},
           "y": {"field": "y", "type": "quantitative", "scale": {"domain": [-0.1, 0.1], "nice": false, "zero": false}, "axis": {"orient": "right", "values": [-0.1, -0.05, 0, 0.05, 0.1], "labels": false, "title": null}},
           "color": {"field": "s", "type": "nominal", "scale": {"domain": ["1 SD", "-1 SD", "2 SD", "-2 SD"], "range": ["#0072BD", "#D95319", "#EDB120", "#7E2F8E"]}, "legend": {"title": null, "encode": {"symbols": {"update": {"shape": {"signal": "datum.value === '-2 SD' ? 'M-1.5,0H1.5M-0.35,-0.45L0.45,0L-0.35,0.45Z' : 'M-1.5,0H1.5'"}}}, "labels": {"update": {"align": {"value": "right"}, "x": {"value": 64}}}}}}
         }}
      ],
      "resolve": {"axis": {"x": "independent", "y": "independent"}}
    }
  ]
}
